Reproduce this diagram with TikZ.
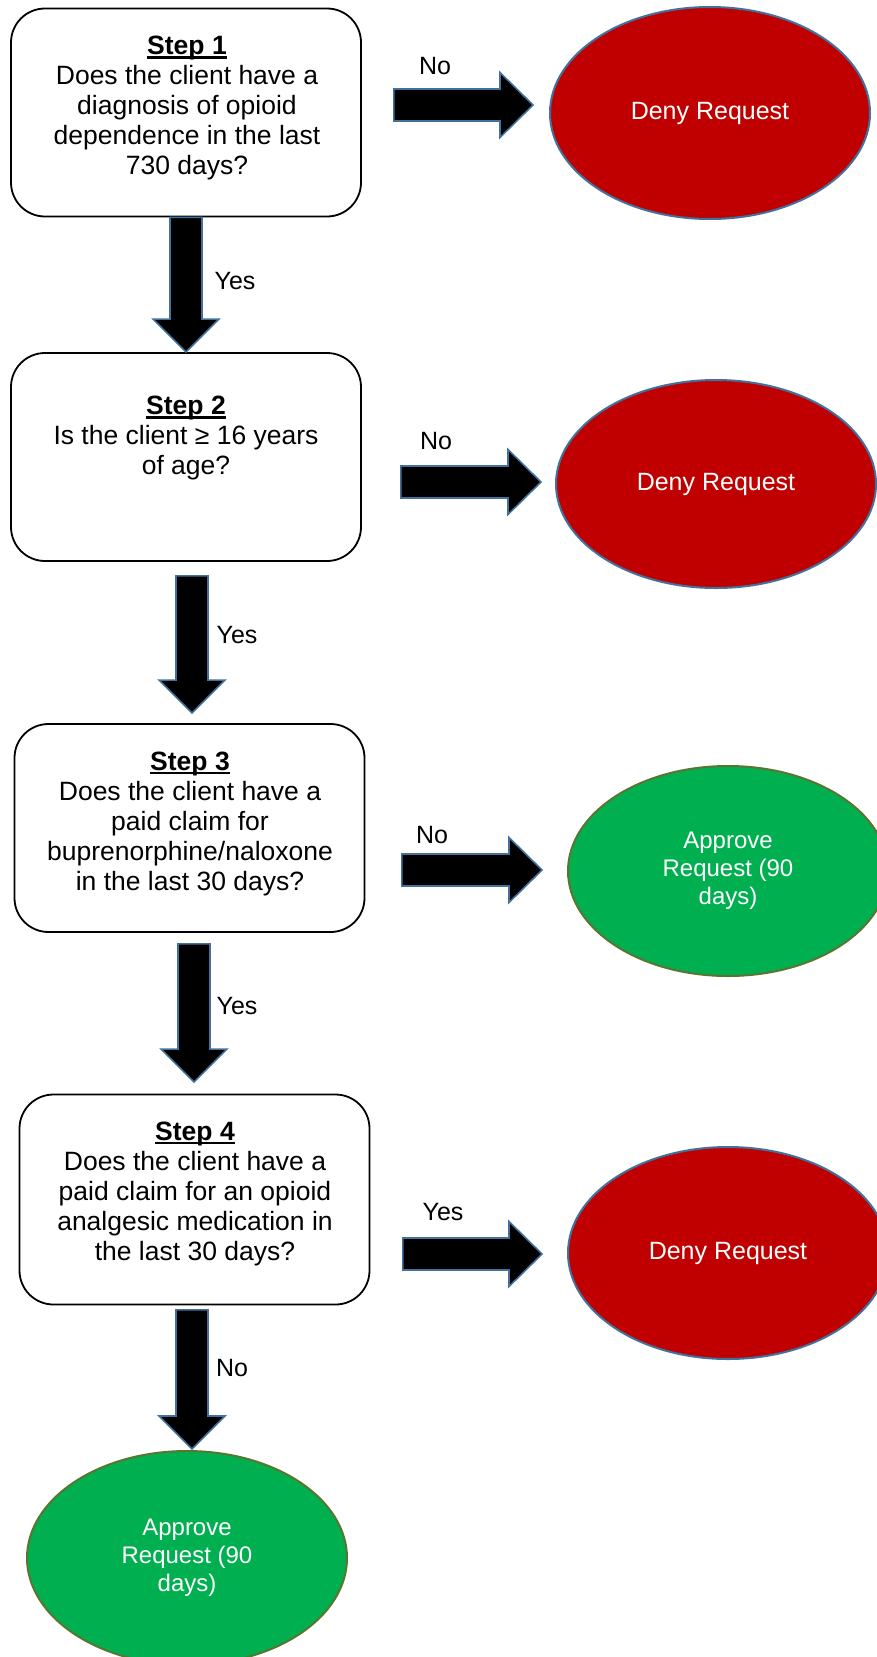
\documentclass[tikz,border=0pt]{standalone}
\usepackage{fontspec}
\setmainfont{Liberation Sans}
\usetikzlibrary{calc,shapes.geometric}
\definecolor{arrowblue}{RGB}{65,113,156}
\definecolor{denyred}{RGB}{192,0,0}
\definecolor{okgreen}{RGB}{0,176,80}
\definecolor{okedge}{RGB}{88,118,48}
\newcommand{\stepul}[1]{\setbox0=\hbox{#1}\leavevmode\rlap{\rule[-4pt]{\wd0}{2.4pt}}\box0}
\begin{document}
\begin{tikzpicture}[x=1pt,y=-1pt,
 stepbox/.style={draw=black, line width=1.8pt, rounded corners=34pt, fill=white, minimum width=350pt, minimum height=208pt, inner sep=0pt},
 steptext/.style={align=center, font=\fontsize{26.5}{30}\selectfont, inner sep=0pt},
 deny/.style={ellipse, fill=denyred, draw=arrowblue, line width=2pt, minimum width=320pt, minimum height=211pt, text=white, font=\fontsize{25}{29}\selectfont, inner sep=0pt},
 approve/.style={ellipse, fill=okgreen, draw=okedge, line width=2pt, minimum width=320pt, minimum height=211pt, text=white, align=center, font=\fontsize{24}{28}\selectfont, inner sep=0pt},
 lbl/.style={font=\fontsize{25}{29}\selectfont, inner sep=0pt},
 harrow/.style={fill=black, draw=arrowblue, line width=1.6pt,
   to path={let \p1=(\tikztostart), \p2=(\tikztotarget) in
   (\x1,\y1+16pt) -- (\x2-33pt,\y1+16pt) -- (\x2-33pt,\y1+32.5pt) -- (\x2,\y1) -- (\x2-33pt,\y1-32.5pt) -- (\x2-33pt,\y1-16pt) -- (\x1,\y1-16pt) -- cycle}},
 varrow/.style={fill=black, draw=arrowblue, line width=1.6pt,
   to path={let \p1=(\tikztostart), \p2=(\tikztotarget) in
   (\x1-16pt,\y1) -- (\x1-16pt,\y2+33pt) -- (\x1-33pt,\y2+33pt) -- (\x1,\y2) -- (\x1+33pt,\y2+33pt) -- (\x1+16pt,\y2+33pt) -- (\x1+16pt,\y1) -- cycle}}
]
\clip (0,0) rectangle (877,1657);
\useasboundingbox (0,0) rectangle (877,1657);

% step boxes
\node[stepbox] (s1) at (186,112.5) {};
\node[stepbox] (s2) at (186,457) {};
\node[stepbox] (s3) at (189.5,828) {};
\node[stepbox, minimum height=210pt] (s4) at (194.5,1199.5) {};

\node[steptext] (t1) at (187,108) {\stepul{\textbf{Step 1}}\\Does the client have a\\diagnosis of opioid\\dependence in the last\\730 days?};
\node[steptext] (t2) at (186,438) {\stepul{\textbf{Step 2}}\\Is the client ≥ 16 years\\of age?};
\node[steptext] (t3) at (190,823.5) {\stepul{\textbf{Step 3}}\\Does the client have a\\paid claim for\\buprenorphine/naloxone\\in the last 30 days?};
\node[steptext] (t4) at (195,1193.5) {\stepul{\textbf{Step 4}}\\Does the client have a\\paid claim for an opioid\\analgesic medication in\\the last 30 days?};

% outcome ellipses
\node[deny, minimum height=212pt] (e1) at (710,113) {Deny Request};
\node[deny, minimum height=208pt] (e2) at (716,484) {Deny Request};
\node[approve, minimum height=210pt] (e3) at (728,871) {Approve\\Request (90\\days)};
\node[deny, minimum height=212pt] (e4) at (728,1253) {Deny Request};
\node[approve, minimum height=214pt] (e5) at (187,1558) {Approve\\Request (90\\days)};

% horizontal block arrows
\draw[harrow] ($(s1.east)+(32,-7.5)$) to ($(e1.west)+(-16,-8)$);
\draw[harrow] ($(s2.east)+(39,25)$) to ($(e2.west)+(-14,-2)$);
\draw[harrow] ($(s3.east)+(36.5,42)$) to ($(e3.west)+(-25,-1)$);
\draw[harrow] ($(s4.east)+(32.5,54.5)$) to ($(e4.west)+(-25,1)$);

% vertical block arrows
\draw[varrow] (s1.south) to (s2.north);
\draw[varrow] ($(s2.south)+(6,14)$) to ($(s3.north)+(2.5,-10)$);
\draw[varrow] ($(s3.south)+(4.5,11)$) to ($(s4.north)+(-0.5,-11.5)$);
\draw[varrow] ($(s4.south)+(-2.5,4.5)$) to ($(e5.north)+(5,-1)$);

% labels
\node[lbl] (n1) at (435,66) {No};
\node[lbl] (n2) at (436,441) {No};
\node[lbl] (n3) at (432,835) {No};
\node[lbl] (y4) at (443,1212) {Yes};
\node[lbl] (y1) at (235,281) {Yes};
\node[lbl] (y2) at (237,635) {Yes};
\node[lbl] (y3) at (237,1006) {Yes};
\node[lbl] (n4) at (232,1368) {No};
\end{tikzpicture}
\end{document}
